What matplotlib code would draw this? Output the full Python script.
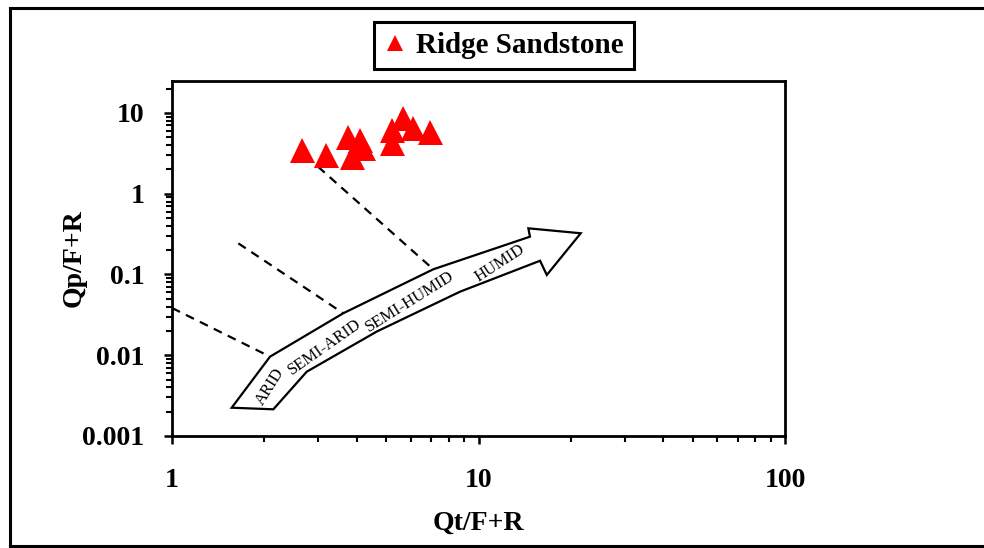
import matplotlib.pyplot as plt
import numpy as np
from matplotlib.patches import Polygon
from matplotlib.lines import Line2D
from matplotlib.ticker import FixedLocator, FixedFormatter, LogLocator, NullFormatter

plt.rcParams['font.family'] = ['Liberation Serif', 'DejaVu Serif']
plt.rcParams['font.weight'] = 'bold'

# --- Data ---
qt_fr = [2.66, 3.18, 3.75, 3.87, 4.11, 4.20, 5.22, 5.22, 5.67, 6.11, 6.95]
qp_fr = [3.48, 3.02, 5.05, 2.85, 4.63, 3.69, 6.16, 4.26, 8.67, 6.52, 5.82]

# climate arrow outline (Qt/F+R, Qp/F+R)
arrow_x = [1.566, 2.141, 2.751, 4.65, 8.70, 15.88, 16.70, 21.55, 14.54, 14.72, 7.12, 3.62, 2.088]
arrow_y = [0.00224, 0.00214, 0.00625, 0.0196, 0.0612, 0.148, 0.0986, 0.324, 0.373, 0.294, 0.116, 0.0331, 0.0096]

# dashed boundaries between climate fields
bound_x = [[1.0, 2.088], [1.646, 3.62], [2.996, 7.12]]
bound_y = [[0.0385, 0.0096], [0.243, 0.0331], [2.16, 0.116]]

zone_names = ['ARID', 'SEMI-ARID', 'SEMI-HUMID', 'HUMID']
zone_x = [2.088, 3.157, 5.976, 11.75]
zone_y = [0.00408, 0.01276, 0.0461, 0.1377]
zone_rot = [58, 35, 32, 33]

ytick_vals = [0.001, 0.01, 0.1, 1, 10]
ytick_txt = ['0.001', '0.01', '0.1', '1', '10']
xtick_vals = [1, 10, 100]
xtick_txt = ['1', '10', '100']

# --- Plot ---
fig = plt.figure(figsize=(9.84, 5.48), dpi=100)
ax = fig.add_axes([0.1748, 0.2044, 0.623, 0.6478])
ax.set_xscale('log')
ax.set_yscale('log')
ax.set_xlim(1, 100)
ax.set_ylim(0.001, 24.9)

ax.add_patch(Polygon(np.column_stack([arrow_x, arrow_y]), closed=True,
                     facecolor='white', edgecolor='black', lw=1.6, zorder=2))

for bx, by in zip(bound_x, bound_y):
    ax.plot(bx, by, color='black', lw=1.6, ls=(0, (4, 3)), zorder=1)

for name, zx, zy, rot in zip(zone_names, zone_x, zone_y, zone_rot):
    ax.text(zx, zy, name, rotation=rot, ha='center', va='center',
            fontsize=12, fontweight='normal', rotation_mode='anchor', zorder=3)

ax.plot(qt_fr, qp_fr, '^', color='#FF0000', markersize=18, markeredgewidth=0,
        ls='none', label='Ridge Sandstone', zorder=4)

ax.yaxis.set_major_locator(FixedLocator(ytick_vals))
ax.yaxis.set_major_formatter(FixedFormatter(ytick_txt))
ax.xaxis.set_major_locator(FixedLocator(xtick_vals))
ax.xaxis.set_major_formatter(FixedFormatter(xtick_txt))
ax.yaxis.set_minor_locator(LogLocator(base=10, subs=np.arange(2, 10), numticks=20))
ax.xaxis.set_minor_locator(LogLocator(base=10, subs=np.arange(2, 10), numticks=20))
ax.yaxis.set_minor_formatter(NullFormatter())
ax.xaxis.set_minor_formatter(NullFormatter())

ax.tick_params(which='major', direction='out', length=6, width=1.8, labelsize=20)
ax.tick_params(axis='y', which='major', pad=14)
ax.tick_params(axis='x', which='major', pad=17)
ax.tick_params(which='minor', direction='out', length=4, width=1.5)
for s in ax.spines.values():
    s.set_linewidth(2)

ax.set_xlabel('Qt/F+R', fontsize=20, fontweight='bold')
ax.set_ylabel('Qp/F+R', fontsize=20, fontweight='bold')
ax.xaxis.set_label_coords(0.5, -0.21)
ax.yaxis.set_label_coords(-0.14, 0.5)

leg = ax.legend(loc='upper center', bbox_to_anchor=(0.541, 1.166), fontsize=21,
                frameon=True, fancybox=False, framealpha=1, handlelength=0.8,
                handletextpad=0.3, markerscale=0.62, borderpad=0.35, borderaxespad=0)
leg.get_frame().set_edgecolor('black')
leg.get_frame().set_linewidth(2.2)
for t in leg.get_texts():
    t.set_fontweight('bold')

# outer frame of the figure panel
fig.add_artist(Line2D([0.0102, 1.0], [0.9854, 0.9854], color='black', lw=2.2))
fig.add_artist(Line2D([0.0102, 0.0102], [0.0036, 0.9854], color='black', lw=2.2))
fig.add_artist(Line2D([0.0102, 1.0], [0.0036, 0.0036], color='black', lw=2.2))

fig.savefig('out.png', dpi=100)
